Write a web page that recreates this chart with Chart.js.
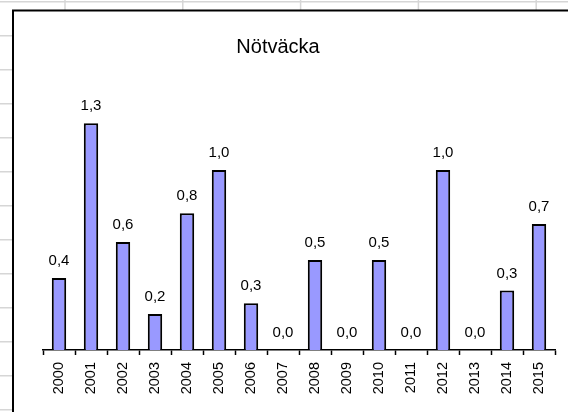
<!DOCTYPE html>
<html>
<head>
<meta charset="utf-8">
<script src="https://cdn.jsdelivr.net/npm/chart.js@4/dist/chart.umd.min.js"></script>
<style>
  body { margin: 0; background: #fff; }
  canvas { display: block; }
</style>
</head>
<body>
<canvas id="chart" width="568" height="412"></canvas>
<script>
// categories and values
const years = ["2000", "2001", "2002", "2003", "2004", "2005", "2006", "2007",
  "2008", "2009", "2010", "2011", "2012", "2013", "2014", "2015"];
const counts = [0.4, 1.26, 0.6, 0.2, 0.76, 1.0, 0.26, 0, 0.5, 0, 0.5, 0, 1.0, 0, 0.33, 0.7];
const title = "Nötväcka";

const font = "'Liberation Sans', Arial, sans-serif";

// spreadsheet cells behind the chart + the chart frame
const sheetPlugin = {
  id: "sheet",
  beforeDraw(chart) {
    const ctx = chart.ctx;
    ctx.save();
    ctx.fillStyle = "#fff";
    ctx.fillRect(0, 0, chart.width, chart.height);
    ctx.strokeStyle = "#d6d6d6";
    ctx.lineWidth = 1.5;
    for (let y = 1.7; y < chart.height; y += 34) {
      ctx.beginPath();
      ctx.moveTo(0, y);
      ctx.lineTo(chart.width, y);
      ctx.stroke();
    }
    for (let x = 65; x < chart.width; x += 117.8) {
      ctx.beginPath();
      ctx.moveTo(x, 0);
      ctx.lineTo(x, chart.height);
      ctx.stroke();
    }
    // chart object (white, black frame)
    ctx.fillStyle = "#fff";
    ctx.fillRect(13, 10, chart.width, chart.height);
    ctx.strokeStyle = "#000";
    ctx.lineWidth = 2;
    ctx.strokeRect(13, 10.5, chart.width + 10, chart.height + 10);
    // title
    ctx.fillStyle = "#000";
    ctx.font = "20px " + font;
    ctx.textAlign = "center";
    ctx.textBaseline = "alphabetic";
    ctx.fillText(title, 278, 53);
    ctx.restore();
  },
};

// value labels above the bars
const labelPlugin = {
  id: "labels",
  afterDatasetsDraw(chart) {
    const ctx = chart.ctx;
    const meta = chart.getDatasetMeta(0);
    ctx.save();
    ctx.fillStyle = "#000";
    ctx.font = "15px " + font;
    ctx.textAlign = "center";
    ctx.textBaseline = "alphabetic";
    meta.data.forEach((bar, i) => {
      const txt = counts[i].toFixed(1).replace(".", ",");
      ctx.fillText(txt, bar.x, bar.y - 13);
    });
    ctx.restore();
  },
};

new Chart("chart", {
  type: "bar",
  data: {
    labels: years,
    datasets: [
      {
        data: counts,
        backgroundColor: "#9999FF",
        borderColor: "#000",
        borderWidth: 2,
        categoryPercentage: 1,
        barPercentage: 0.45,
      },
    ],
  },
  options: {
    responsive: false,
    animation: false,
    devicePixelRatio: 1,
    layout: { padding: { left: 43, right: 13, top: 98, bottom: 0 } },
    plugins: {
      legend: { display: false },
      tooltip: { enabled: false },
    },
    scales: {
      x: {
        grid: {
          drawOnChartArea: false,
          drawTicks: true,
          tickLength: 5,
          tickColor: "#000",
          tickWidth: 1.5,
        },
        border: { display: true, color: "#000", width: 1.5 },
        ticks: {
          color: "#000",
          font: { family: font, size: 14.5 },
          minRotation: 90,
          maxRotation: 90,
          padding: 7,
        },
        afterFit(scale) {
          scale.height = 62;
        },
      },
      y: {
        display: false,
        min: 0,
        max: 1.4,
      },
    },
  },
  plugins: [sheetPlugin, labelPlugin],
});
</script>
</body>
</html>
